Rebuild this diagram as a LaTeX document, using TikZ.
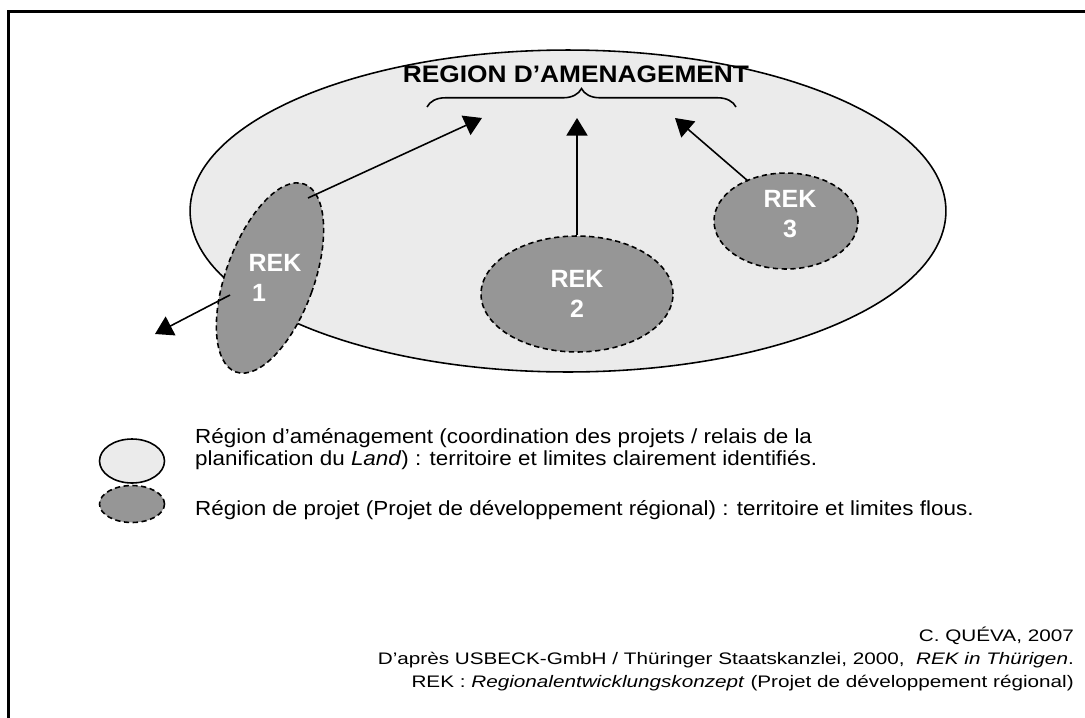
\documentclass[tikz,border=0pt]{standalone}
\usepackage{fontspec}
\setmainfont{Liberation Sans}
\newfontfamily\widefont[FakeStretch=1.1]{Liberation Sans}
\newfontfamily\widerfont[FakeStretch=1.24]{Liberation Sans}
\usetikzlibrary{shapes.geometric,arrows.meta,decorations.pathreplacing}
\definecolor{zonegrey}{gray}{0.92}
\definecolor{rekgrey}{gray}{0.59}
\tikzset{
  zone/.style={ellipse, draw, line width=0.9pt, fill=zonegrey, inner sep=0pt},
  rek/.style={ellipse, draw, dash pattern=on 3pt off 2pt, line width=0.9pt, fill=rekgrey, inner sep=0pt},
  reklabel/.style={text=white, font=\bfseries\fontsize{14.2}{17}\selectfont, align=center},
  link/.style={line width=0.9pt, -{Triangle[length=10pt,width=12pt]}},
  legend/.style={anchor=west, align=left, font=\widefont\fontsize{11.6}{12.5}\selectfont},
  source/.style={anchor=east, align=right, font=\widerfont\fontsize{9.5}{13.3}\selectfont},
}
\begin{document}
\begin{tikzpicture}[x=0.02cm,y=-0.02cm]
        \useasboundingbox (0,0) rectangle (1085,717);
        % Frame
        \draw[line width=1.2pt] (8.5,730) |- (1095,11.5);

        % Region d'amenagement
        \node[zone, minimum width=15.12cm, minimum height=6.44cm] (amen) at (568,211) {};
        \node[font=\widefont\bfseries\fontsize{13.6}{17}\selectfont] (title) at (576,74) {REGION D’AMENAGEMENT};
        \draw[line width=0.9pt, decorate, decoration={brace, amplitude=10.5pt}] (427,107) -- (736,107);

        % Regions de projet
        \node[rek, minimum width=1.76cm, minimum height=4cm, rotate=-20] (rek1) at (270,278) {};
        \node[reklabel, align=left] (lab1) at (275,278) {REK\\\hspace{2pt}1};
        \node[rek, minimum width=3.84cm, minimum height=2.32cm, reklabel] (rek2) at (577,294) {REK\\2};
        \node[rek, minimum width=2.88cm, minimum height=1.92cm] (rek3) at (786,221) {};
        \node[reklabel] (lab3) at (790,214) {REK\\3};

        % Arrows
        \coordinate (a1) at (308,198);
        \coordinate (a3) at (748,181);
        \coordinate (a4) at (230,295);
        \coordinate (t1) at (482,118);
        \coordinate (t2) at (577,118);
        \coordinate (t3) at (675,118);
        \coordinate (t4) at (155,334);
        \draw[link] (a1) -- (t1);
        \draw[link] (rek2.north) -- (t2);
        \draw[link] (a3) -- (t3);
        \draw[link] (a4) -- (t4);

        % Legend
        \node[zone, minimum width=1.3cm, minimum height=0.88cm] (key1) at (132,461) {};
        \node[legend] (txt1) at (189,449) {Région d’aménagement (coordination des projets / relais de la\\planification du \textit{Land}) : territoire et limites clairement identifiés.};
        \node[rek, minimum width=1.3cm, minimum height=0.74cm] (key2) at (132,504) {};
        \node[legend] (txt2) at (189,510) {Région de projet (Projet de développement régional) : territoire et limites flous.};

        % Source
        \node[source] (src) at (1080,659) {C. QUÉVA, 2007\\D’après USBECK-GmbH / Thüringer Staatskanzlei, 2000,~ \textit{REK in Thürigen}.\\REK : \textit{Regionalentwicklungskonzept} (Projet de développement régional)};
\end{tikzpicture}
\end{document}
